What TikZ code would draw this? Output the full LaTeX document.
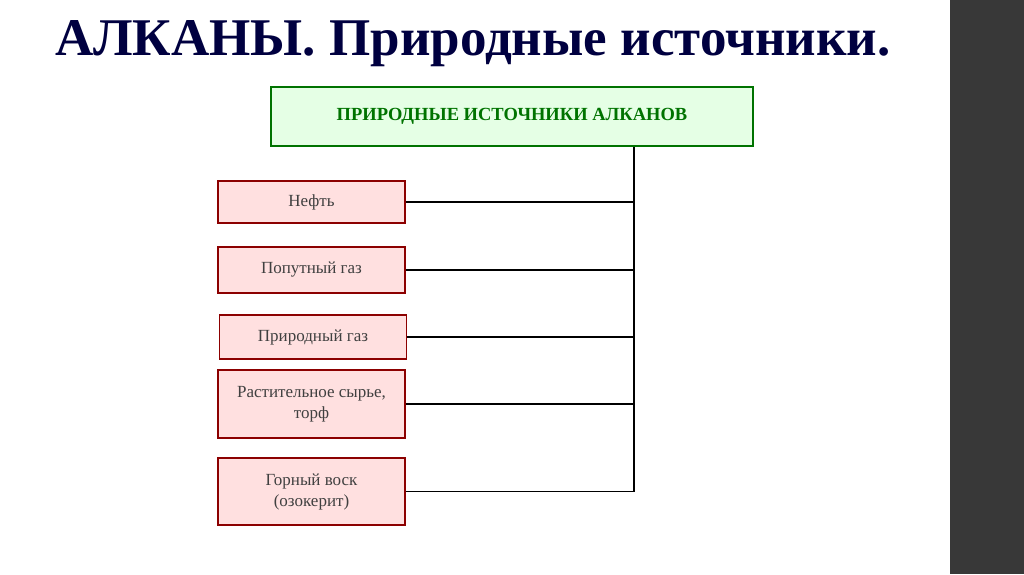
\documentclass[tikz,border=0pt]{standalone}
\usepackage{fontspec}
\setmainfont{Liberation Serif}
\begin{document}
\begin{tikzpicture}[x=1pt,y=-1pt,
  src/.style={draw=red!55!black,line width=1.6pt,fill=red!12,align=center,font=\fontsize{17}{21}\selectfont,text=black!75,inner sep=0pt},
  conn/.style={line width=1.5pt,black}]
\useasboundingbox (0,0) rectangle (1024,574);
\fill[white] (0,0) rectangle (1024,574);
\fill[black!78] (950,0) rectangle (1024,574);
\node[anchor=west,font=\bfseries\fontsize{53}{58}\selectfont,text=blue!25!black,inner sep=0pt] (title) at (55,44) {АЛКАНЫ. Природные источники.};
\node[draw=green!45!black,line width=1.6pt,fill=green!10,minimum width=482pt,minimum height=59pt,font=\bfseries\fontsize{18.5}{20}\selectfont,text=green!45!black] (top) at (512,116.5) {ПРИРОДНЫЕ ИСТОЧНИКИ АЛКАНОВ};
\node[src,minimum width=187pt,minimum height=42pt] (a) at (311.5,202) {Нефть};
\node[src,minimum width=187pt,minimum height=46pt] (b) at (311.5,270) {Попутный газ};
\node[src,minimum width=187pt,minimum height=44pt] (c) at (313,337) {Природный газ};
\node[src,minimum width=187pt,minimum height=68pt] (d) at (311.5,404) {Растительное сырье,\\торф};
\node[src,minimum width=187pt,minimum height=67pt] (e) at (311.5,491.5) {Горный воск\\(озокерит)};
\coordinate (bot) at (634,492);
\draw[conn] (top.south -| bot) -- (bot);
\foreach \n in {a,b,c,d,e} \draw[conn] (\n.east) -- (\n.east -| bot);
\end{tikzpicture}
\end{document}
